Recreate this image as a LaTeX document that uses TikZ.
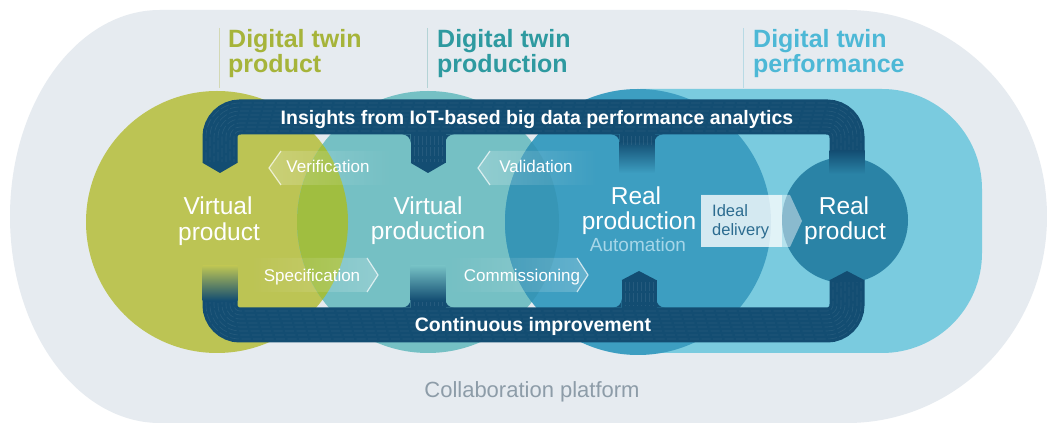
\documentclass[tikz,border=0pt]{standalone}
\usepackage{fontspec}
\setmainfont{Liberation Sans}
\usetikzlibrary{fadings}
\definecolor{bgc}{HTML}{E6EBF0}
\definecolor{greenc}{HTML}{BCC454}
\definecolor{lensGT}{HTML}{A0BE40}
\definecolor{tealc}{HTML}{75C0C4}
\definecolor{lensTB}{HTML}{3796B6}
\definecolor{bluec}{HTML}{3D9EC1}
\definecolor{cyanc}{HTML}{7ACBDF}
\definecolor{darkc}{HTML}{2A83A6}
\definecolor{pipec}{HTML}{134D72}
\definecolor{hdrG}{HTML}{A6B43A}
\definecolor{hdrT}{HTML}{2E9AA0}
\definecolor{hdrB}{HTML}{4DB8D6}
\definecolor{lineG}{HTML}{D3D8B4}
\definecolor{lineT}{HTML}{B4D3D6}
\definecolor{lineB}{HTML}{B8DAE5}
\definecolor{collabc}{HTML}{8D9CA8}
\definecolor{automc}{HTML}{A6D6E8}
\definecolor{idealc}{HTML}{2C6C90}
\newcommand\myfs[2]{\fontsize{#1}{#2}\selectfont}
\tikzfading[name=fadeR, left color=transparent!25, right color=transparent!100]
\tikzfading[name=fadeL, left color=transparent!100, right color=transparent!25]
\newcommand\topjoin[1]{%
  \fill[pipec] ({#1-25.5},134.5) arc[start angle=270,end angle=360,radius=8] -- ({#1-17.5},134.5) -- cycle;
  \fill[pipec] ({#1+17.5},142.5) arc[start angle=180,end angle=270,radius=8] -- ({#1+17.5},134.5) -- cycle;}
\newcommand\botjoin[1]{%
  \fill[pipec] ({#1-25.5},307.5) arc[start angle=90,end angle=0,radius=8] -- ({#1-17.5},307.5) -- cycle;
  \fill[pipec] ({#1+17.5},299.5) arc[start angle=180,end angle=90,radius=8] -- ({#1+17.5},307.5) -- cycle;}
\begin{document}
\begin{tikzpicture}[x=1pt,y=-1pt,
  pipe/.style={draw=pipec, line width=35pt, rounded corners=20pt},
  tex/.style={draw=white, draw opacity=0.08, line width=0.6pt, dash pattern=on 9pt off 2.5pt},
  hdr/.style={font=\bfseries\myfs{25}{26}, anchor=base west, inner sep=0pt},
  big/.style={font=\myfs{24.5}{26}, text=white, anchor=base, inner sep=0pt},
  bandlbl/.style={font=\bfseries\myfs{19.5}{20}, text=white, anchor=base, inner sep=0pt},
  chevlbl/.style={font=\myfs{17}{18}, text=white, anchor=base, inner sep=0pt},
  chevline/.style={draw=white, draw opacity=0.7, line width=1.2pt},
  hline/.style={line width=0.8pt},
  band/.style={fill=white, fill opacity=0.28}
]
\useasboundingbox (0,0) rectangle (1047,427);
\fill[white] (0,0) rectangle (1047,427);
% collaboration platform background
\fill[bgc] (160,10) arc[start angle=270, end angle=90, x radius=150, y radius=206.5]
  -- (847,423) arc[start angle=90, end angle=-90, x radius=200, y radius=206.5] -- cycle;
% performance area
\fill[cyanc, rounded corners=100pt] (640,89) -- (982,89) -- (982,353) -- (640,353);
% circles
\fill[greenc] (217,222) circle[radius=131];
\fill[tealc] (428,222) circle[radius=131];
\fill[bluec] (638,222) circle[radius=133];
\begin{scope}
  \clip (217,222) circle[radius=131];
  \fill[lensGT] (428,222) circle[radius=131];
\end{scope}
\begin{scope}
  \clip (428,222) circle[radius=131];
  \fill[lensTB] (638,222) circle[radius=133];
\end{scope}
\fill[darkc] (845,220) circle[radius=63];
% chevron bands
\fill[band, path fading=fadeR] (269,168) -- (281,151) -- (392,151) -- (392,185) -- (281,185) -- cycle;
\draw[chevline] (281,151) -- (269,168) -- (281,185);
\fill[band, path fading=fadeR] (478,168) -- (490,151) -- (598,151) -- (598,185) -- (490,185) -- cycle;
\draw[chevline] (490,151) -- (478,168) -- (490,185);
\fill[band, path fading=fadeL] (250,258) -- (367,258) -- (378,275) -- (367,292) -- (250,292) -- cycle;
\draw[chevline] (367,258) -- (378,275) -- (367,292);
\fill[band, path fading=fadeL] (448,258) -- (577,258) -- (588,275) -- (577,292) -- (448,292) -- cycle;
\draw[chevline] (577,258) -- (588,275) -- (577,292);
% ideal delivery arrow
\fill[white, fill opacity=0.45] (701,195) -- (790,195) -- (802,221) -- (790,247) -- (701,247) -- cycle;
\fill[white, fill opacity=0.6] (701,195) rectangle (782,247);
% top pipe
\draw[pipe] (220,163) -- (220,117) -- (847,117) -- (847,151);
\fill[pipec] (202.5,162.8) -- (237.5,162.8) -- (220,173) -- cycle;
\fill[pipec] (410.5,117) rectangle (445.5,163);
\fill[pipec] (410.5,162.8) -- (445.5,162.8) -- (428,173) -- cycle;
\topjoin{428}
\fill[pipec] (619.5,117) rectangle (654.5,142);
\shade[top color=pipec, bottom color=bluec] (619.5,141.5) rectangle (654.5,173);
\topjoin{637}
\shade[top color=pipec, bottom color=darkc] (829.5,150.5) rectangle (864.5,174);
% bottom pipe
\draw[pipe] (220,300) -- (220,325) -- (847,325) -- (847,280);
\shade[top color=greenc, bottom color=pipec] (202.5,266) rectangle (237.5,300.5);
\fill[pipec] (410.5,300) rectangle (445.5,325);
\shade[top color=tealc, bottom color=pipec] (410.5,266) rectangle (445.5,300.5);
\botjoin{428}
\fill[pipec] (621.5,280) rectangle (656.5,325);
\fill[pipec] (621.5,280.2) -- (639,271) -- (656.5,280.2) -- cycle;
\botjoin{639}
\fill[pipec] (829.5,280.2) -- (847,271) -- (864.5,280.2) -- cycle;
% pipe texture
\foreach \d [evaluate=\d as \rr using 20+\d] in {-14,-10,-6,-2,2,6,10,14} {
  \draw[tex, rounded corners=\rr pt, dash phase=\rr pt] ({220-\d},162) -- ({220-\d},{117-\d}) -- ({847+\d},{117-\d}) -- ({847+\d},150);
  \draw[tex, rounded corners=\rr pt, dash phase=\rr pt] ({220-\d},302) -- ({220-\d},{325+\d}) -- ({847+\d},{325+\d}) -- ({847+\d},282);
  \draw[tex] ({428+\d},136) -- ({428+\d},162);
  \draw[tex] ({637+\d},136) -- ({637+\d},145);
  \draw[tex] ({428+\d},302) -- ({428+\d},306);
  \draw[tex] ({639+\d},282) -- ({639+\d},306);
}
% header lines
\draw[hline, draw=lineG] (219,28) -- (219,88);
\draw[hline, draw=lineT] (427,28) -- (427,88);
\draw[hline, draw=lineB] (743,28) -- (743,88);
% headers
\node[hdr, text=hdrG] (h1a) at (228,48) {Digital twin};
\node[hdr, text=hdrG] (h1b) at (228,73) {product};
\node[hdr, text=hdrT] (h2a) at (437,48) {Digital twin};
\node[hdr, text=hdrT] (h2b) at (437,73) {production};
\node[hdr, text=hdrB] (h3a) at (753,48) {Digital twin};
\node[hdr, text=hdrB] (h3b) at (753,73) {performance};
% band labels
\node[bandlbl] (insights) at (537,125) {Insights from IoT-based big data performance analytics};
\node[bandlbl] (contimp) at (533,332) {Continuous improvement};
% circle labels
\node[big] (vp1) at (218,215) {Virtual};
\node[big] (vp2) at (219,241) {product};
\node[big] (vpn1) at (428,215) {Virtual};
\node[big] (vpn2) at (428,240) {production};
\node[big] (rp1) at (636,205) {Real};
\node[big] (rp2) at (639,230) {production};
\node[big, font=\myfs{19}{20}, text=automc] (auto) at (638,252) {Automation};
\node[big] (rpr1) at (844,215) {Real};
\node[big] (rpr2) at (845,240) {product};
\node[font=\myfs{16.5}{18}, text=idealc, anchor=base west, inner sep=0pt] (id1) at (712,217) {Ideal};
\node[font=\myfs{16.5}{18}, text=idealc, anchor=base west, inner sep=0pt] (id2) at (712,236) {delivery};
% chevron labels
\node[chevlbl] (verif) at (328,173) {Verification};
\node[chevlbl] (valid) at (536,173) {Validation};
\node[chevlbl] (spec) at (312,282) {Specification};
\node[chevlbl] (comm) at (522,282) {Commissioning};
% platform
\node[font=\myfs{22}{24}, text=collabc, anchor=base, inner sep=0pt] (collab) at (532,398) {Collaboration platform};
\end{tikzpicture}
\end{document}
